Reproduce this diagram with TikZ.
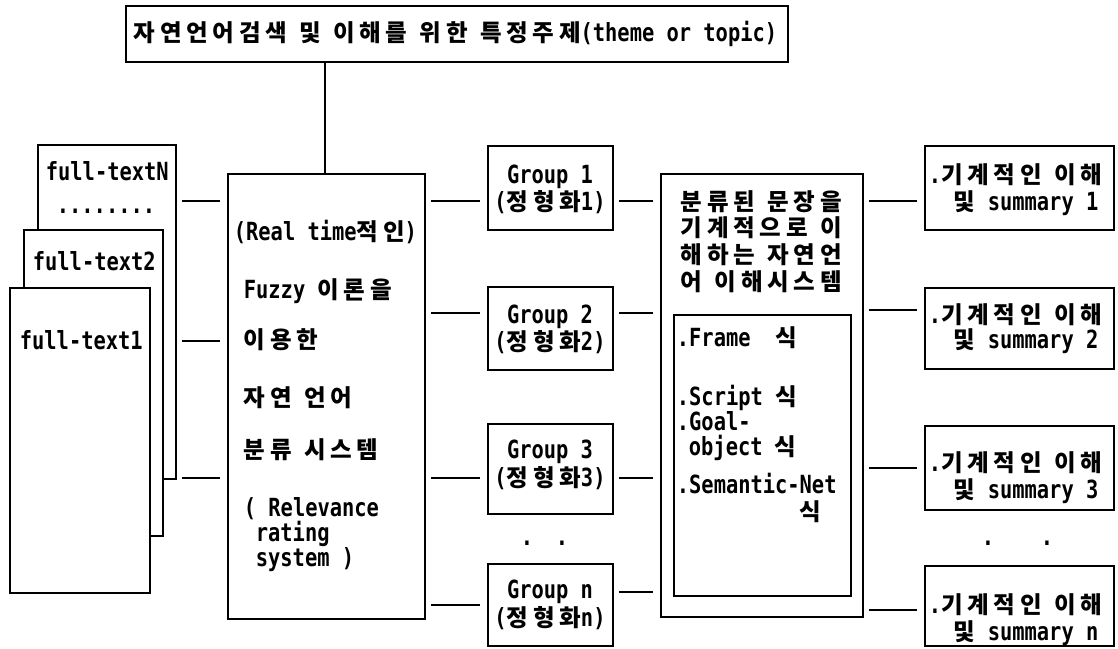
\documentclass[tikz,border=0pt]{standalone}
\usepackage{fontspec}
\setmainfont{DejaVu Sans Mono}[FakeStretch=0.816]
\newfontfamily\krf{Noto Sans CJK KR}[LetterSpace=20]
\newcommand\K[1]{{\krf\bfseries\fontsize{23.5}{25}\selectfont #1}}
\begin{document}
\begin{tikzpicture}[x=1pt,y=-1pt,line width=1.8pt,
  box/.style={draw, fill=white, rectangle, inner sep=0pt, anchor=north west},
  t/.style={inner sep=0pt, text height=20pt, text depth=3pt, anchor=west, font=\bfseries\fontsize{25}{27}\selectfont},
  tc/.style={t, anchor=center},
  conn/.style={shorten <=5pt, shorten >=7pt}]
\useasboundingbox (0,0) rectangle (1118,648);
% title
\node[box, minimum width=662pt, minimum height=56pt] (top) at (125,5) {};
\node[t] (toptxt) at (133,33) {\K{자연언어검색} \K{및} \K{이해를} \K{위한} \K{특정주제}(theme or topic)};
% stack of full texts
\node[box, minimum width=138pt, minimum height=334pt] (fN) at (37,144) {};
\node[box, minimum width=139pt, minimum height=306pt] (f2) at (23,229) {};
\node[box, minimum width=140pt, minimum height=305pt] (f1) at (9,287) {};
\node[t] (fNt) at (45,172) {full-textN};
\node[t] (fNd) at (56,205) {........};
\node[t] (f2t) at (32,262) {full-text2};
\node[t] (f1t) at (19,341) {full-text1};
% classification box
\node[box, minimum width=197pt, minimum height=445pt] (big) at (227,173) {};
\node[t] (b1) at (233,232) {(Real time\K{적인})};
\node[t] (b2) at (243,290) {Fuzzy \K{이론을}};
\node[t] (b3) at (243,340) {\K{이용한}};
\node[t] (b4) at (243,398) {\K{자연} \K{언어}};
\node[t] (b5) at (243,450) {\K{분류} \K{시스템}};
\node[t] (b6) at (243,508) {( Relevance};
\node[t] (b7) at (255,533) {rating};
\node[t] (b8) at (255,558) {system )};
% groups
\node[box, minimum width=125pt, minimum height=84pt] (g1) at (487,145) {};
\node[box, minimum width=125pt, minimum height=83pt] (g2) at (487,286) {};
\node[box, minimum width=125pt, minimum height=90pt] (g3) at (487,423) {};
\node[box, minimum width=125pt, minimum height=82pt] (gn) at (487,563) {};
\node[tc] (g1a) at (550,175) {Group 1};
\node[tc] (g1b) at (550,202) {(\K{정형화}1)};
\node[tc] (g2a) at (550,315) {Group 2};
\node[tc] (g2b) at (550,342) {(\K{정형화}2)};
\node[tc] (g3a) at (550,450) {Group 3};
\node[tc] (g3b) at (550,478) {(\K{정형화}3)};
\node[tc] (gna) at (550,590) {Group n};
\node[tc] (gnb) at (550,618) {(\K{정형화}n)};
\node[tc] (gd1) at (527,537) {.};
\node[tc] (gd2) at (562,537) {.};
% understanding system
\node[box, minimum width=202pt, minimum height=443pt] (mid) at (660,173) {};
\node[t] (m1) at (680,202) {\K{분류된} \K{문장을}};
\node[t] (m2) at (680,228) {\K{기계적으로} \K{이}};
\node[t] (m3) at (680,255) {\K{해하는} \K{자연언}};
\node[t] (m4) at (680,282) {\K{어} \K{이해시스템}};
\node[box, minimum width=177pt, minimum height=281pt] (inner) at (673,314) {};
\node[t] (i1) at (676,338) {.Frame\ \ \K{식}};
\node[t] (i2) at (676,397) {.Script \K{식}};
\node[t] (i3) at (676,422) {.Goal-};
\node[t] (i4) at (688,447) {object \K{식}};
\node[t] (i5) at (676,485) {.Semantic-Net};
\node[t] (i6) at (799,512) {\K{식}};
% results
\node[box, minimum width=189pt, minimum height=84pt] (r1) at (924,145) {};
\node[box, minimum width=189pt, minimum height=81pt] (r2) at (924,287) {};
\node[box, minimum width=189pt, minimum height=84pt] (r3) at (924,425) {};
\node[box, minimum width=189pt, minimum height=80pt] (rn) at (924,565) {};
\node[t] (r1a) at (928,175) {.\K{기계적인} \K{이해}};
\node[t] (r1b) at (953,202) {\K{및} summary 1};
\node[t] (r2a) at (928,315) {.\K{기계적인} \K{이해}};
\node[t] (r2b) at (953,340) {\K{및} summary 2};
\node[t] (r3a) at (928,463) {.\K{기계적인} \K{이해}};
\node[t] (r3b) at (953,490) {\K{및} summary 3};
\node[t] (rna) at (928,605) {.\K{기계적인} \K{이해}};
\node[t] (rnb) at (953,632) {\K{및} summary n};
\node[tc] (rd1) at (988,537) {.};
\node[tc] (rd2) at (1047,537) {.};
% connectors
\coordinate (tv) at (325,0);
\draw (top.south -| tv) -- (big.north -| tv);
\draw[conn] (fN.east |- 0,201) -- (big.west |- 0,201);
\draw[conn] (fN.east |- 0,341) -- (big.west |- 0,341);
\draw[conn] (fN.east |- 0,478) -- (big.west |- 0,478);
\draw[conn] (big.east |- 0,201) -- (g1.west |- 0,201);
\draw[conn] (big.east |- 0,313) -- (g2.west |- 0,313);
\draw[conn] (big.east |- 0,478) -- (g3.west |- 0,478);
\draw[conn] (big.east |- 0,605) -- (gn.west |- 0,605);
\draw[conn] (g1.east |- 0,201) -- (mid.west |- 0,201);
\draw[conn] (g2.east |- 0,313) -- (mid.west |- 0,313);
\draw[conn] (g3.east |- 0,478) -- (mid.west |- 0,478);
\draw[conn] (gn.east |- 0,592) -- (mid.west |- 0,592);
\draw[conn] (mid.east |- 0,201) -- (r1.west |- 0,201);
\draw[conn] (mid.east |- 0,310) -- (r2.west |- 0,310);
\draw[conn] (mid.east |- 0,468) -- (r3.west |- 0,468);
\draw[conn] (mid.east |- 0,610) -- (rn.west |- 0,610);
\end{tikzpicture}
\end{document}
